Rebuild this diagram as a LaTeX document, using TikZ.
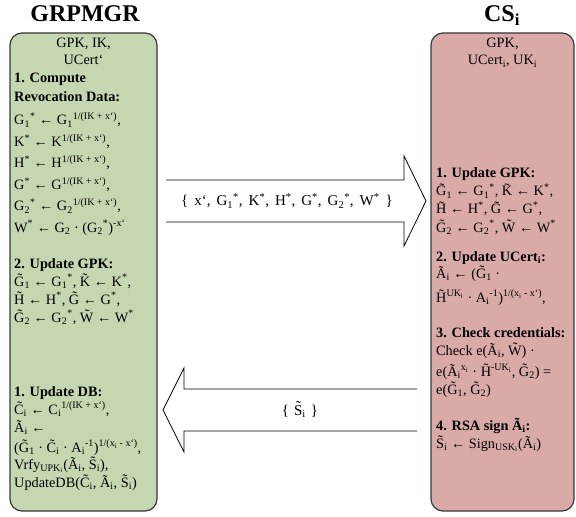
\documentclass[tikz,border=0pt]{standalone}
\usepackage{fontspec}
\setmainfont{Liberation Serif}
\newcommand\ut[1]{\textsuperscript{#1}}
\newcommand\dt[1]{\textsubscript{#1}}
\newcommand\ex{\ut{1/(IK + x‘)}}
\definecolor{grn}{RGB}{197,215,176}
\definecolor{pnk}{RGB}{217,170,168}
\definecolor{edge}{RGB}{55,55,55}
\tikzset{
  tx/.style={anchor=base west, inner sep=0pt, font=\fontsize{14.3bp}{17bp}\selectfont},
  txb/.style={tx, font=\fontsize{14.3bp}{17bp}\selectfont\bfseries},
  txc/.style={tx, anchor=base},
  lbl/.style={anchor=base, inner sep=0pt, font=\fontsize{15bp}{18bp}\selectfont},
  ttl/.style={anchor=base, inner sep=0pt, font=\fontsize{24bp}{28bp}\selectfont\bfseries},
  panel/.style={draw=edge, line width=1.2bp, rounded corners=12bp},
  blk/.style={draw=black, fill=white, line width=0.8bp, line join=miter}
}
\begin{document}
\begin{tikzpicture}[x=1bp,y=-1bp]
\useasboundingbox (0,0) rectangle (576,517);
% titles
\node[ttl] (tg) at (85,22) {GRPMGR};
\node[ttl] (tc) at (502,22) {CS\dt{i}};
% panels
\path[panel, fill=grn] (10,33) rectangle (157,511);
\path[panel, fill=pnk] (431,33) rectangle (574,511);
% left panel text
\node[txc] (L1) at (83.5,48) {GPK, IK,};
\node[txc] (L2) at (83.5,65) {UCert‘};
\node[txb] (L3) at (14,83) {1. Compute};
\node[txb] (L4) at (14,102) {Revocation Data:};
\node[tx] (L5) at (14,125) {G\dt{1}\ut{*} ← G\dt{1}\ex,};
\node[tx] (L6) at (14,147) {K\ut{*} ← K\ex,};
\node[tx] (L7) at (14,168) {H\ut{*} ← H\ex,};
\node[tx] (L8) at (14,190) {G\ut{*} ← G\ex,};
\node[tx] (L9) at (14,211) {G\dt{2}\ut{*} ← G\dt{2}\ex,};
\node[tx] (L10) at (14,232) {W\ut{*} ← G\dt{2} · (G\dt{2}\ut{*})\ut{-x‘}};
\node[txb] (L11) at (14,268) {2. Update GPK:};
\node[tx] (L12) at (14,286) {\~G\dt{1} ← G\dt{1}\ut{*}, \~K ← K\ut{*},};
\node[tx] (L13) at (14,304) {\~H ← H\ut{*}, \~G ← G\ut{*},};
\node[tx] (L14) at (14,322) {\~G\dt{2} ← G\dt{2}\ut{*}, \~W ← W\ut{*}};
\node[txb] (L15) at (14,396) {1. Update DB:};
\node[tx] (L16) at (14,414) {\~C\dt{i} ← C\dt{i}\ex,};
\node[tx] (L17) at (14,432) {\~A\dt{i} ←};
\node[tx] (L18) at (14,452) {(\~G\dt{1} · \~C\dt{i} · A\dt{i}\ut{-1})\ut{1/(x\dt{i} - x‘)},};
\node[tx] (L19) at (14,469) {Vrfy\dt{UPK\dt{i}}(\~A\dt{i}, \~S\dt{i}),};
\node[tx] (L20) at (14,487) {UpdateDB(\~C\dt{i}, \~A\dt{i}, \~S\dt{i})};
% right panel text
\node[txc] (R1) at (502.5,48) {GPK,};
\node[txc] (R2) at (502.5,65) {UCert\dt{i}, UK\dt{i}};
\node[txb] (R3) at (436,178) {1. Update GPK:};
\node[tx] (R4) at (436,196) {\~G\dt{1} ← G\dt{1}\ut{*}, \~K ← K\ut{*},};
\node[tx] (R5) at (436,214) {\~H ← H\ut{*}, \~G ← G\ut{*},};
\node[tx] (R6) at (436,232) {\~G\dt{2} ← G\dt{2}\ut{*}, \~W ← W\ut{*}};
\node[txb] (R7) at (436,261) {2. Update UCert\dt{i}:};
\node[tx] (R8) at (436,278) {\~A\dt{i} ← (\~G\dt{1} ·};
\node[tx] (R9) at (436,302) {\~H\ut{UK\dt{i}} · A\dt{i}\ut{-1})\ut{1/(x\dt{i} - x‘)},};
\node[txb] (R10) at (436,337) {3. Check credentials:};
\node[tx] (R11) at (436,355) {Check e(\~A\dt{i}, \~W) ·};
\node[tx] (R12) at (436,376) {e(\~A\dt{i}\ut{x\dt{i}} · \~H\ut{-UK\dt{i}}, \~G\dt{2}) =};
\node[tx] (R13) at (436,394) {e(\~G\dt{1}, \~G\dt{2})};
\node[txb] (R14) at (436,430) {4. RSA sign \~A\dt{i}:};
\node[tx] (R15) at (436,448) {\~S\dt{i} ← Sign\dt{USK\dt{i}}(\~A\dt{i})};
% block arrows
\path[blk] (166,180) -- (404,180) -- (404,156) -- (426,201) -- (404,246) -- (404,222) -- (166,222);
\node[lbl] (M1) at (287,206) {\spaceskip=6bp\{ x‘, G\dt{1}\ut{*}, K\ut{*}, H\ut{*}, G\ut{*}, G\dt{2}\ut{*}, W\ut{*} \}};
\path[blk] (417,389) -- (184,389) -- (184,368) -- (163,410) -- (184,452) -- (184,431) -- (417,431);
\node[lbl] (M2) at (300,415) {\spaceskip=5bp\{ \~S\dt{i} \}};
\end{tikzpicture}
\end{document}
